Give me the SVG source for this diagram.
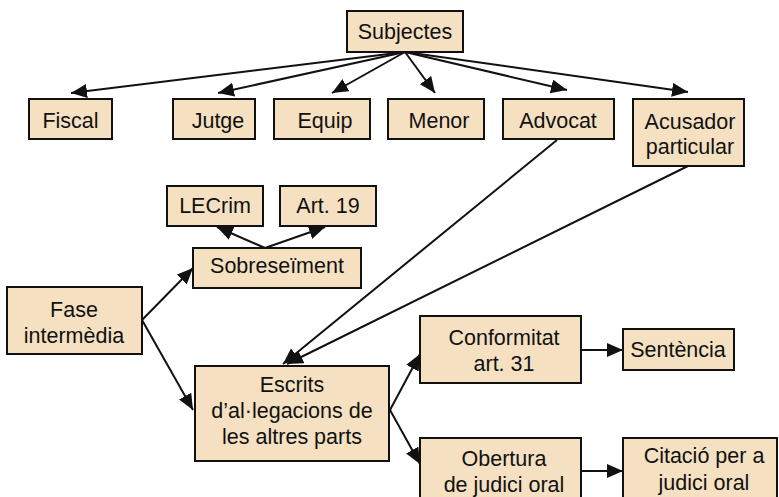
<svg xmlns="http://www.w3.org/2000/svg" width="779" height="497" viewBox="0 0 779 497">
<style>
.box{fill:#f5e1c1;stroke:#111;stroke-width:2}
.t{font-family:"Liberation Sans",Arial,sans-serif;font-size:21.5px;fill:#111;text-anchor:middle}
.c{stroke:#111;stroke-width:2;fill:none;marker-end:url(#ah)}
</style>
<defs>
<marker id="ah" markerUnits="userSpaceOnUse" markerWidth="18" markerHeight="16" refX="16" refY="7" orient="auto">
<path d="M0,0 L16,7 L0,14 Z" fill="#111"/>
</marker>
</defs>
<rect width="779" height="497" fill="#fff"/>
<g id="connectors">
<line class="c" x1="405" y1="52" x2="71" y2="93"/>
<line class="c" x1="405" y1="52" x2="218" y2="93"/>
<line class="c" x1="405" y1="52" x2="332" y2="93"/>
<line class="c" x1="405" y1="52" x2="435" y2="93"/>
<line class="c" x1="405" y1="52" x2="567" y2="90"/>
<line class="c" x1="405" y1="52" x2="688" y2="92"/>
<line class="c" x1="557" y1="140" x2="283" y2="364"/>
<line class="c" x1="688" y1="166" x2="287" y2="364"/>
<line class="c" x1="265" y1="248" x2="217" y2="227"/>
<line class="c" x1="265" y1="248" x2="325" y2="227"/>
<line class="c" x1="142" y1="320" x2="193" y2="268"/>
<line class="c" x1="142" y1="320" x2="193" y2="410"/>
<line class="c" x1="390" y1="410" x2="420" y2="354"/>
<line class="c" x1="390" y1="410" x2="420" y2="464"/>
<line class="c" x1="581" y1="350" x2="623" y2="350"/>
<line class="c" x1="581" y1="471" x2="623" y2="471"/>
</g>
<g id="subjectes"><rect class="box" x="347" y="11" width="116" height="41"/><text class="t" x="405" y="39">Subjectes</text></g>
<g id="fiscal"><rect class="box" x="29" y="99" width="83" height="40"/><text class="t" x="70.5" y="128">Fiscal</text></g>
<g id="jutge"><rect class="box" x="173" y="99" width="82" height="40"/><text class="t" x="218" y="128">Jutge</text></g>
<g id="equip"><rect class="box" x="274" y="99" width="96" height="40"/><text class="t" x="325" y="128">Equip</text></g>
<g id="menor"><rect class="box" x="388" y="99" width="96" height="40"/><text class="t" x="439" y="128">Menor</text></g>
<g id="advocat"><rect class="box" x="503" y="99" width="111" height="40"/><text class="t" x="558" y="128">Advocat</text></g>
<g id="acusador"><rect class="box" x="633" y="99" width="111" height="67"/><text class="t" x="690" y="129">Acusador</text><text class="t" x="690" y="154">particular</text></g>
<g id="lecrim"><rect class="box" x="167" y="186" width="96" height="40"/><text class="t" x="215" y="213">LECrim</text></g>
<g id="art19"><rect class="box" x="280" y="186" width="96" height="40"/><text class="t" x="328" y="213">Art. 19</text></g>
<g id="sobreseiment"><rect class="box" x="193" y="248" width="168" height="40"/><text class="t" x="277" y="273">Sobreseïment</text></g>
<g id="fase"><rect class="box" x="7" y="287" width="135" height="67"/><text class="t" x="74" y="317">Fase</text><text class="t" x="74" y="343">intermèdia</text></g>
<g id="escrits"><rect class="box" x="195" y="366" width="194" height="95"/><text class="t" x="292" y="392">Escrits</text><text class="t" x="292" y="418">d’al·legacions de</text><text class="t" x="292" y="444">les altres parts</text></g>
<g id="conformitat"><rect class="box" x="420" y="316" width="161" height="67"/><text class="t" x="504" y="345">Conformitat</text><text class="t" x="504" y="371">art. 31</text></g>
<g id="sentencia"><rect class="box" x="623" y="329" width="111" height="41"/><text class="t" x="678" y="357">Sentència</text></g>
<g id="obertura"><rect class="box" x="420" y="438" width="161" height="70"/><text class="t" x="504" y="466">Obertura</text><text class="t" x="504" y="492">de judici oral</text></g>
<g id="citacio"><rect class="box" x="623" y="438" width="154" height="70"/><text class="t" x="704" y="463">Citació per a</text><text class="t" x="704" y="490">judici oral</text></g>
</svg>
